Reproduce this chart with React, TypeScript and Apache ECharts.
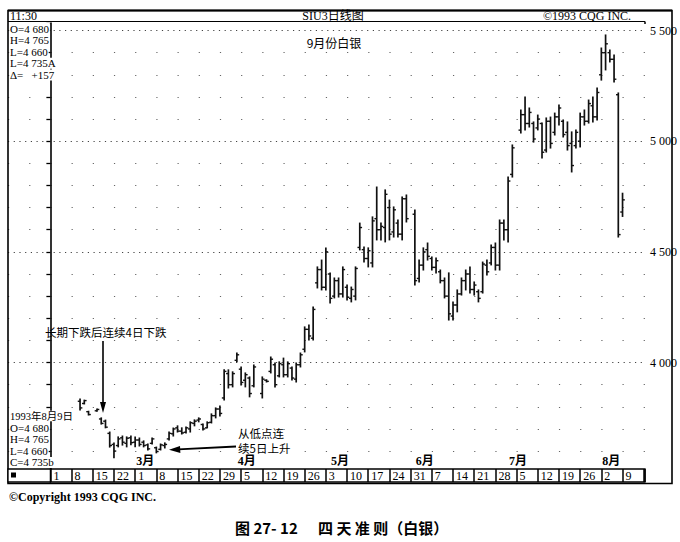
import React, { useEffect, useRef } from "react";
import * as echarts from "echarts";

// Daily bars, silver September 1993 (SIU3)
const dates = [
  "02-10", "02-11", "02-12", "02-16", "02-17", "02-18", "02-19",
  "02-22", "02-23", "02-24", "02-25", "02-26",
  "03-01", "03-02", "03-03", "03-04", "03-05",
  "03-08", "03-09", "03-10", "03-11", "03-12",
  "03-15", "03-16", "03-17", "03-18", "03-19",
  "03-22", "03-23", "03-24", "03-25", "03-26",
  "03-29", "03-30", "03-31", "04-01", "04-02",
  "04-05", "04-06", "04-07", "04-08",
  "04-12", "04-13", "04-14", "04-15", "04-16",
  "04-19", "04-20", "04-21", "04-22", "04-23",
  "04-26", "04-27", "04-28", "04-29", "04-30",
  "05-03", "05-04", "05-05", "05-06", "05-07",
  "05-10", "05-11", "05-12", "05-13", "05-14",
  "05-17", "05-18", "05-19", "05-20", "05-21",
  "05-24", "05-25", "05-26", "05-27", "05-28",
  "06-01", "06-02", "06-03", "06-04",
  "06-07", "06-08", "06-09", "06-10", "06-11",
  "06-14", "06-15", "06-16", "06-17", "06-18",
  "06-21", "06-22", "06-23", "06-24", "06-25",
  "06-28", "06-29", "06-30", "07-01", "07-02",
  "07-06", "07-07", "07-08", "07-09",
  "07-12", "07-13", "07-14", "07-15", "07-16",
  "07-19", "07-20", "07-21", "07-22", "07-23",
  "07-26", "07-27", "07-28", "07-29", "07-30",
  "08-02", "08-03", "08-04", "08-05", "08-06",
  "08-09",
];

const opens = [
  3825, 3815, 3778, 3782, 3745, 3735, 3680,
  3630, 3625, 3660, 3635, 3660,
  3640, 3650, 3640, 3628, 3635,
  3615, 3608, 3625, 3655, 3678,
  3705, 3690, 3685, 3700, 3725,
  3740, 3720, 3705, 3730, 3760,
  3790, 3840, 3950, 3900, 4010,
  3970, 3920, 3930, 3895,
  3860, 3920, 3960, 3990, 3940,
  3990, 3945, 3975, 3925, 3990,
  4060, 4150, 4110, 4360, 4420,
  4340, 4400, 4300, 4370, 4310,
  4340, 4290, 4300, 4520, 4510,
  4470, 4450, 4650, 4600, 4610,
  4700, 4590, 4630, 4580, 4740,
  4670, 4380, 4440, 4510,
  4470, 4430, 4410, 4370, 4300,
  4210, 4260, 4310, 4370, 4400,
  4330, 4320, 4320, 4440, 4450,
  4520, 4440, 4630, 4600, 4850,
  5050, 5120, 5080, 5080,
  5060, 5080, 4960, 5090, 5040,
  5110, 5090, 5040, 4990, 4980,
  5000, 5110, 5090, 5160, 5110,
  5300, 5400, 5400, 5370, 5210,
  4680,
];

const highs = [
  3835, 3830, 3780, 3790, 3750, 3740, 3686,
  3636, 3664, 3668, 3664, 3668,
  3664, 3659, 3646, 3632, 3659,
  3618, 3632, 3637, 3686, 3704,
  3714, 3705, 3709, 3732, 3741,
  3750, 3722, 3732, 3768, 3795,
  3804, 3967, 3967, 3958, 4043,
  3980, 3953, 3935, 3989,
  3935, 3922, 4025, 3998, 4003,
  4020, 4003, 3980, 3998, 4043,
  4161, 4170, 4251, 4432, 4463,
  4518, 4405, 4382, 4382, 4432,
  4350, 4341, 4432, 4630, 4522,
  4518, 4658, 4793, 4630, 4780,
  4734, 4703, 4644, 4748, 4757,
  4689, 4463, 4518, 4540,
  4477, 4472, 4418, 4382, 4405,
  4274, 4328, 4382, 4418, 4432,
  4364, 4328, 4454, 4463, 4531,
  4540, 4644, 4644, 4838, 4983,
  5141, 5200, 5150, 5087,
  5118, 5082, 5105, 5109, 5127,
  5164, 5096, 5087, 5042, 5051,
  5127, 5141, 5186, 5200, 5240,
  5421, 5480, 5412, 5389, 5218,
  4765,
];

const lows = [
  3785, 3813, 3763, 3780, 3722, 3705, 3618,
  3570, 3619, 3627, 3619, 3628,
  3619, 3623, 3619, 3605, 3632,
  3592, 3605, 3614, 3650, 3668,
  3686, 3677, 3682, 3686, 3714,
  3732, 3695, 3705, 3727, 3750,
  3759, 3831, 3885, 3890, 4003,
  3899, 3890, 3845, 3890,
  3840, 3912, 3953, 3890, 3935,
  3935, 3935, 3921, 3912, 3980,
  4048, 4102, 4102, 4337, 4328,
  4328, 4269, 4292, 4296, 4296,
  4283, 4274, 4283, 4509, 4454,
  4432, 4432, 4554, 4554, 4545,
  4554, 4567, 4567, 4554, 4635,
  4350, 4364, 4418, 4463,
  4418, 4405, 4360, 4292, 4192,
  4192, 4229, 4305, 4328, 4314,
  4305, 4274, 4314, 4395, 4441,
  4418, 4418, 4554, 4545, 4838,
  5037, 5051, 5064, 4996,
  5051, 4924, 4951, 4969, 5028,
  5073, 5019, 4960, 4861, 4969,
  4974, 5073, 5082, 5087, 5096,
  5276, 5322, 5358, 5267, 4567,
  4660,
];

const closes = [
  3795, 3828, 3765, 3788, 3725, 3708, 3625,
  3600, 3655, 3640, 3658, 3638,
  3650, 3630, 3625, 3610, 3655,
  3598, 3628, 3630, 3680, 3700,
  3690, 3682, 3705, 3728, 3735,
  3745, 3700, 3728, 3760, 3790,
  3770, 3960, 3900, 3950, 4035,
  3910, 3945, 3860, 3980,
  3925, 3915, 4015, 3900, 3995,
  3945, 3995, 3930, 3990, 4035,
  4150, 4120, 4240, 4420, 4340,
  4500, 4290, 4370, 4310, 4420,
  4295, 4330, 4425, 4610, 4470,
  4505, 4640, 4600, 4615, 4760,
  4580, 4690, 4580, 4740, 4650,
  4370, 4440, 4500, 4480,
  4430, 4460, 4370, 4300, 4220,
  4260, 4310, 4370, 4400, 4330,
  4350, 4290, 4445, 4410, 4520,
  4440, 4630, 4600, 4820, 4970,
  5120, 5080, 5130, 5010,
  5100, 4950, 5090, 4990, 5110,
  5150, 5030, 4980, 4890, 5040,
  5110, 5090, 5170, 5110, 5220,
  5400, 5440, 5370, 5280, 4578,
  4735,
];

const monthLabels = ["3月", "4月", "5月", "6月", "7月", "8月"];
const monthStarts = ["03-01", "04-02", "05-04", "06-01", "07-01", "08-02"];

const infoTop = ["O=4 680", "H=4 765", "L=4 660", "L=4 735A", "Δ=   +157"];
const infoBottom = ["1993年8月9日", "O=4 680", "H=4 765", "L=4 660", "C=4 735b"];

const SERIF = "'Liberation Serif', 'DejaVu Serif', 'Noto Sans CJK SC', serif";
const CJK = "'Noto Sans CJK SC', 'Noto Sans', sans-serif";

// weekday count since Monday 1 Feb 1993
const tradingIndex = (md: string) => {
  const [m, d] = md.split("-").map(Number);
  const diff = Math.round((Date.UTC(1993, m - 1, d) - Date.UTC(1993, 1, 1)) / 86400000);
  return Math.floor(diff / 7) * 5 + (diff % 7);
};

const mondayLabel = (v: number) => {
  if (Math.abs(v - Math.round(v)) > 1e-6) return "";
  const iv = Math.round(v);
  if (iv % 5 !== 0 || iv < 0 || iv > 135) return "";
  const d = new Date(Date.UTC(1993, 1, 1) + (iv / 5) * 7 * 86400000);
  return String(d.getUTCDate());
};

const priceLabel = (v: number) => {
  if (Math.abs(v % 500) > 1e-6 || v < 4000) return "";
  const th = Math.floor(v / 1000);
  const rest = String(Math.round(v % 1000)).padStart(3, "0");
  return `${th} ${rest}`;
};

const txt = (x: number, y: number, text: string, font: string, align = "left", bg = false) => {
  const style: any = {
    text,
    font,
    fill: "#000",
    textAlign: align,
    align,
    textVerticalAlign: "middle",
    verticalAlign: "middle",
  };
  if (bg) {
    style.backgroundColor = "#fff";
    style.textBackgroundColor = "#fff";
    style.padding = [0, 1, 0, 0];
    style.textPadding = [0, 1, 0, 0];
  }
  return { type: "text", x, y, z: 20, style };
};

export default function App() {
  const ref = useRef<HTMLDivElement>(null);

  useEffect(() => {
    if (!ref.current) return;
    const chart = echarts.init(ref.current, null, { renderer: "svg", width: 680, height: 542 });

    const barData = dates.map((d, i) => [tradingIndex(d), opens[i], highs[i], lows[i], closes[i]]);
    const monthData = monthStarts.map((d, i) => [tradingIndex(d), i]);

    const graphics: any[] = [
      // outer frame
      { type: "rect", z: 15, shape: { x: 8, y: 10.5, width: 664, height: 473 }, style: { fill: "none", stroke: "#000", lineWidth: 1.6 } },
      { type: "line", z: 15, shape: { x1: 8, y1: 10.5, x2: 672, y2: 10.5 }, style: { stroke: "#000", lineWidth: 2.2 } },
      { type: "line", z: 15, shape: { x1: 8, y1: 21.5, x2: 645, y2: 21.5 }, style: { stroke: "#000", lineWidth: 1 } },
      { type: "line", z: 15, shape: { x1: 645, y1: 21.5, x2: 645, y2: 24 }, style: { stroke: "#000", lineWidth: 1.5 } },
      // first box of the date strip
      { type: "rect", z: 15, shape: { x: 8, y: 469, width: 42.4, height: 13 }, style: { fill: "#fff", stroke: "#000", lineWidth: 1.3 } },
      { type: "rect", z: 16, shape: { x: 11, y: 472.5, width: 5, height: 5 }, style: { fill: "#000" } },
      // header texts
      txt(10, 15.5, "11:30", `12px ${SERIF}`),
      txt(333, 15.5, "SIU3日线图", `12px ${SERIF}`, "center"),
      txt(543, 15.5, "©1993 CQG INC.", `12px ${SERIF}`),
      txt(334, 42, "9月份白银", `12px ${CJK}`, "center"),
      // annotations
      txt(45, 331.5, "长期下跌后连续4日下跌", `11.5px ${CJK}`),
      { type: "line", z: 20, shape: { x1: 103, y1: 341, x2: 103, y2: 405 }, style: { stroke: "#000", lineWidth: 1.6 } },
      { type: "polygon", z: 20, shape: { points: [[100, 402], [106, 402], [103, 413]] }, style: { fill: "#000" } },
      txt(238, 433, "从低点连", `11.5px ${CJK}`),
      txt(238, 447.5, "续5日上升", `11.5px ${CJK}`),
      { type: "line", z: 20, shape: { x1: 236, y1: 446.5, x2: 178, y2: 449.3 }, style: { stroke: "#000", lineWidth: 1.8 } },
      { type: "polygon", z: 20, shape: { points: [[169, 449.8], [180, 446], [180.4, 453]] }, style: { fill: "#000" } },
      // footer
      txt(9, 497, "©Copyright 1993 CQG INC.", `bold 12px ${SERIF}`),
      txt(235, 527, "图 27- 12", `bold 15px ${CJK}`),
      txt(318, 527, "四 天 准 则（白银）", `bold 15px ${CJK}`),
    ];
    infoTop.forEach((t, i) => graphics.push(txt(10, 28.5 + i * 11.6, t, `11px ${SERIF}`, "left", true)));
    infoBottom.forEach((t, i) =>
      graphics.push(txt(10, 416 + i * 11.6, t, i === 0 ? `10.5px ${SERIF}` : `11px ${SERIF}`, "left", true))
    );

    const option: any = {
      animation: false,
      backgroundColor: "#fff",
      grid: [
        { left: 8, top: 23, width: 637, height: 446, show: false },
        {
          left: 50.38, top: 469, width: 594.62, height: 13, show: true,
          borderColor: "#000", borderWidth: 1.3, backgroundColor: "#fff",
        },
      ],
      xAxis: [
        { gridIndex: 0, type: "value", min: -10, max: 140.3, show: false, splitLine: { show: false } },
        {
          gridIndex: 1, type: "value", min: 0, max: 140.3, interval: 5,
          axisLine: { show: false }, axisTick: { show: false },
          splitLine: { show: true, lineStyle: { color: "#000", width: 1.5, type: "solid" } },
          axisLabel: {
            inside: true, margin: 0.5, align: "left", verticalAlign: "bottom",
            padding: [0, 0, 0, 3], color: "#000", fontFamily: SERIF, fontSize: 12,
            formatter: mondayLabel, showMinLabel: true, showMaxLabel: false, hideOverlap: false,
          },
        },
      ],
      yAxis: [
        {
          gridIndex: 0, type: "value", position: "right", min: 3519, max: 5534, splitNumber: 4,
          axisLine: { show: true, lineStyle: { color: "#000", width: 1.6 } },
          axisTick: { show: true, inside: true, length: 4, lineStyle: { color: "#000", width: 1.3 } },
          minorTick: { show: true, splitNumber: 5, length: 4, lineStyle: { color: "#000", width: 1.3 } },
          axisLabel: {
            show: true, margin: 5, color: "#000", fontFamily: SERIF, fontSize: 12,
            formatter: priceLabel, showMinLabel: false, showMaxLabel: false,
          },
          splitLine: {
            show: true, showMinLine: false, showMaxLine: false,
            lineStyle: { color: "#444", width: 1, type: [1.2, 4.5] },
          },
          minorSplitLine: {
            show: true,
            lineStyle: { color: "#666", width: 1, type: [1.2, 19.99] },
          },
        },
        { gridIndex: 1, type: "value", min: 0, max: 1, show: false, splitLine: { show: false } },
      ],
      series: [
        {
          type: "custom",
          name: "SIU3",
          xAxisIndex: 0,
          yAxisIndex: 0,
          clip: false,
          z: 5,
          encode: { x: 0, y: [1, 2, 3, 4] },
          data: barData,
          renderItem: (params: any, api: any) => {
            const x = api.value(0);
            const pO = api.coord([x, api.value(1)]);
            const pH = api.coord([x, api.value(2)]);
            const pL = api.coord([x, api.value(3)]);
            const pC = api.coord([x, api.value(4)]);
            const t = 2.3;
            return {
              type: "group",
              children: [
                { type: "line", shape: { x1: pH[0], y1: pH[1] - 0.5, x2: pL[0], y2: pL[1] + 0.5 }, style: { stroke: "#111", lineWidth: 1.7 } },
                { type: "line", shape: { x1: pO[0] - t, y1: pO[1], x2: pO[0], y2: pO[1] }, style: { stroke: "#111", lineWidth: 1.4 } },
                { type: "line", shape: { x1: pC[0], y1: pC[1], x2: pC[0] + t, y2: pC[1] }, style: { stroke: "#111", lineWidth: 1.4 } },
              ],
            };
          },
        },
        {
          type: "custom",
          name: "months",
          xAxisIndex: 0,
          yAxisIndex: 0,
          clip: false,
          z: 6,
          encode: { x: 0 },
          data: monthData,
          renderItem: (params: any, api: any) => {
            const px = api.coord([api.value(0), 4000])[0];
            const y = params.coordSys.y + params.coordSys.height - 8;
            return {
              type: "text",
              x: px + 1,
              y,
              style: {
                text: monthLabels[api.value(1)],
                font: `bold 12px ${SERIF}`,
                fill: "#000",
                textAlign: "left",
                align: "left",
                textVerticalAlign: "middle",
                verticalAlign: "middle",
              },
            };
          },
        },
      ],
      graphic: graphics,
    };

    chart.setOption(option);
    return () => chart.dispose();
  }, []);

  return (
    <div
      ref={ref}
      style={{ position: "fixed", left: 0, top: 0, width: 680, height: 542, background: "#fff" }}
    />
  );
}
